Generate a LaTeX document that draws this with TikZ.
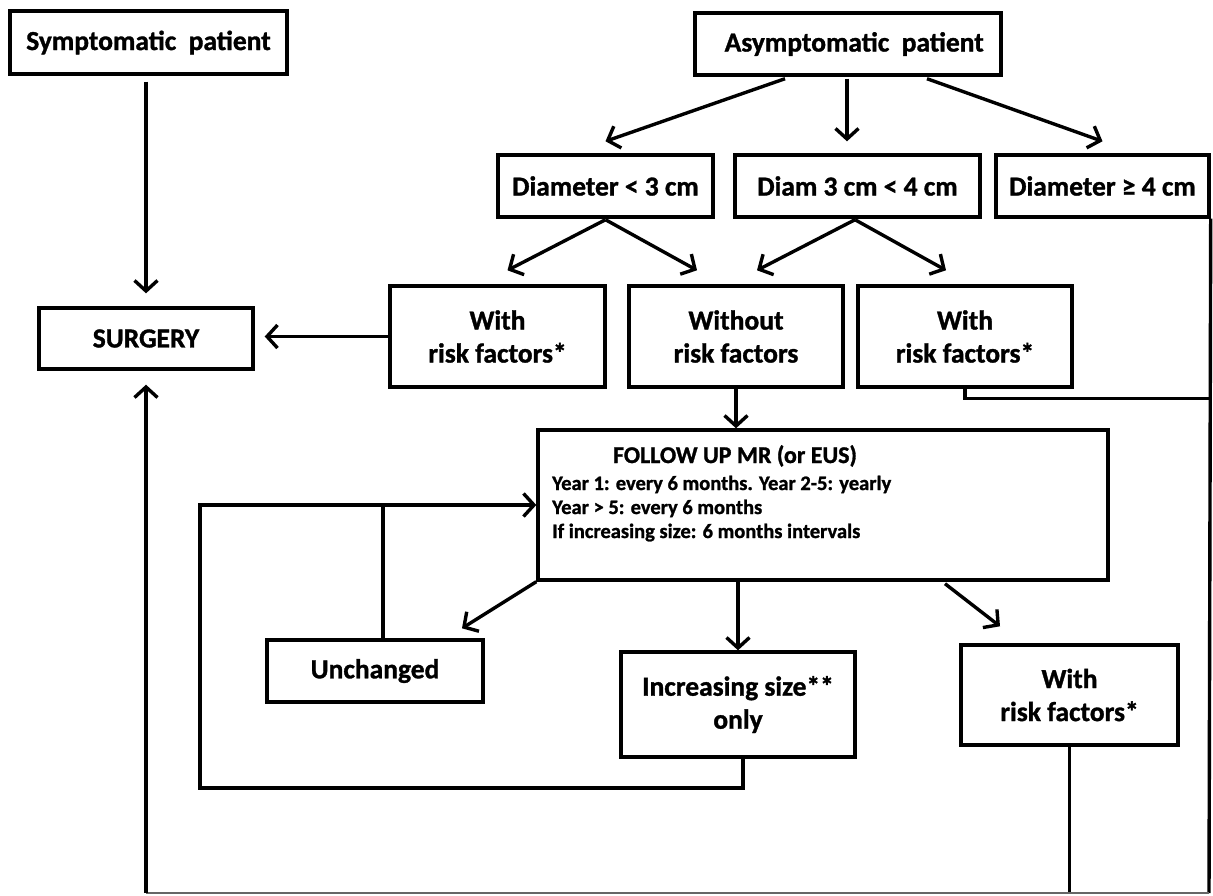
\documentclass[tikz,border=0pt]{standalone}
\usepackage{fontspec}
\setmainfont{Carlito}[BoldFeatures={FakeBold=1.2}]
\usetikzlibrary{arrows.meta,calc}
\tikzset{
  box/.style={draw, line width=3.4pt, inner sep=0pt, align=center,
    font=\bfseries\fontsize{27.5}{33}\selectfont},
  ln/.style={line width=3.4pt},
  arr/.style={line width=3.4pt, -{Straight Barb[length=10.5pt,width=23pt]}},
  futitle/.style={font=\bfseries\fontsize{24}{24}\selectfont, inner sep=0pt},
  fuline/.style={font=\bfseries\fontsize{20.5}{24}\selectfont, inner sep=0pt},
}
\begin{document}
\begin{tikzpicture}[x=1pt,y=-1pt]
\useasboundingbox (0,0) rectangle (1213,895);
% nodes
\node[box, minimum width=277pt, minimum height=63pt] (sym) at (148.5,42.5) {Symptomatic\ \ patient};
\node[box, minimum width=214pt, minimum height=61pt] (surg) at (146,338.5) {SURGERY};
\node[box, minimum width=306pt, minimum height=62pt] (asym) at (848,44) {\ \ Asymptomatic\ \ patient};
\node[box, minimum width=215pt, minimum height=62pt] (d3) at (605.5,186) {Diameter < 3 cm};
\node[box, minimum width=245pt, minimum height=62pt] (d34) at (857.5,186) {Diam 3 cm < 4 cm};
\node[box, minimum width=213pt, minimum height=62pt] (d4) at (1102.5,186) {Diameter ≥ 4 cm};
\node[box, minimum width=215pt, minimum height=101pt] (wr1) at (497.5,336.5) {With\\risk factors*};
\node[box, minimum width=214pt, minimum height=101pt] (wo) at (736,336.5) {Without\\risk factors};
\node[box, minimum width=214pt, minimum height=101pt] (wr2) at (965,336.5) {With\\risk factors*};
\node[box, minimum width=570pt, minimum height=150pt] (fu) at (823,505) {};
\node[futitle, anchor=base] (fut) at (735,463) {FOLLOW UP MR (or EUS)};
\node[fuline, anchor=base west] (fua) at (552,490) {Year 1: every 6 months. Year 2-5: yearly};
\node[fuline, anchor=base west] (fub) at (552,514) {Year > 5: every 6 months};
\node[fuline, anchor=base west] (fuc) at (552,538) {If increasing size: 6 months intervals};
\node[box, minimum width=216pt, minimum height=62pt] (unch) at (375,671) {Unchanged};
\node[box, minimum width=234pt, minimum height=105pt] (inc) at (738,704.5) {Increasing size**\\only};
\node[box, minimum width=217pt, minimum height=100pt] (wr3) at (1069.5,695) {With\\risk factors*};
\coordinate (bl) at (146,893);
\coordinate (br) at (1209,893);
\coordinate (lp) at (200,788);
% connectors
\draw[arr, shorten <=6pt, shorten >=13pt] (surg.north |- sym.south) -- (surg.north);
\draw[arr, shorten >=10pt] (wr1.west) -- (surg.east |- wr1.west);
\draw[arr] ([xshift=-63pt,yshift=-2pt]asym.south) -- ([yshift=12pt]d3.north);
\draw[arr] ([xshift=-1pt,yshift=-2pt]asym.south) -- ([xshift=-10.5pt,yshift=12pt]d34.north);
\draw[arr] ([xshift=79pt,yshift=-2pt]asym.south) -- ([yshift=12pt]d4.north);
\draw[arr] ([yshift=-1pt]d3.south) -- ([xshift=10pt,yshift=14pt]wr1.north);
\draw[arr] ([yshift=-1pt]d3.south) -- ([xshift=-39pt,yshift=14pt]wo.north);
\draw[arr] ([xshift=-2.5pt,yshift=-1pt]d34.south) -- ([xshift=21pt,yshift=14pt]wo.north);
\draw[arr] ([xshift=-2.5pt,yshift=-1pt]d34.south) -- ([xshift=-19pt,yshift=14pt]wr2.north);
\draw[arr] (wo.south) -- (wo.south |- fu.north);
\draw[ln] (wr2.south) |- ($(d4.south east)+(0,180)$);
\draw[ln] (d4.south east) -- (br);
\draw[arr] (fu.south west) -- ([xshift=87pt,yshift=10pt]unch.north);
\draw[arr] (inc.north |- fu.south) -- (inc.north);
\draw[arr] ([xshift=122pt,yshift=-2pt]fu.south) -- ([xshift=-69.5pt,yshift=17pt]wr3.north);
\draw[arr] ([xshift=5pt]inc.south) |- (lp) |- (fu.west);
\draw[ln] ([xshift=8pt]unch.north) -- ([xshift=8pt]unch.north |- fu.west);
\draw[ln] (wr3.south) -- (wr3.south |- br);
\draw[line width=1.5pt, black!60] (bl) -- (br);
\draw[arr, shorten >=14pt] (bl) -- (surg.south);
\end{tikzpicture}
\end{document}
